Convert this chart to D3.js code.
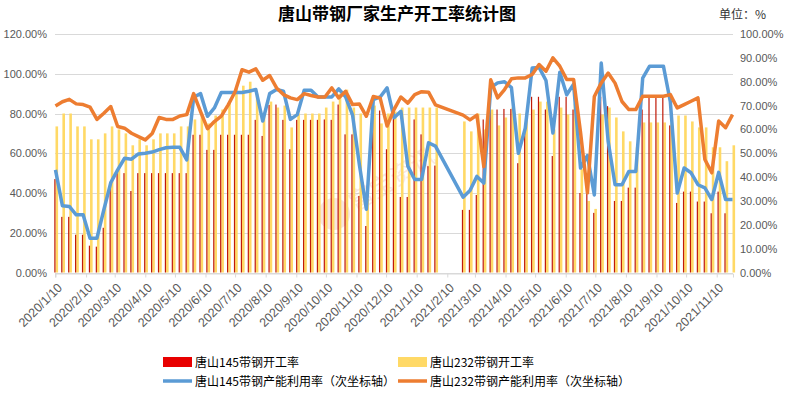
<!DOCTYPE html>
<html>
<head>
<meta charset="utf-8">
<script src="https://cdn.jsdelivr.net/npm/d3@7"></script>
<style>
  body { margin: 0; background: #fff; }
  svg { display: block; font-family: "Liberation Sans", "Noto Sans CJK SC", sans-serif; }
</style>
</head>
<body>
<svg id="chart" width="789" height="394"></svg>
<script>
// weekly dates (Fridays)
const weeks = [
  "2020-01-10","2020-01-17","2020-01-24","2020-01-31","2020-02-07","2020-02-14","2020-02-21","2020-02-28",
  "2020-03-06","2020-03-13","2020-03-20","2020-03-27","2020-04-03","2020-04-10","2020-04-17","2020-04-24",
  "2020-05-01","2020-05-08","2020-05-15","2020-05-22","2020-05-29","2020-06-05","2020-06-12","2020-06-19",
  "2020-06-26","2020-07-03","2020-07-10","2020-07-17","2020-07-24","2020-07-31","2020-08-07","2020-08-14",
  "2020-08-21","2020-08-28","2020-09-04","2020-09-11","2020-09-18","2020-09-25","2020-10-02","2020-10-09",
  "2020-10-16","2020-10-23","2020-10-30","2020-11-06","2020-11-13","2020-11-20","2020-11-27","2020-12-04",
  "2020-12-11","2020-12-18","2020-12-25","2021-01-01","2021-01-08","2021-01-15","2021-01-22","2021-01-29",
  "2021-02-05","2021-02-12","2021-02-19","2021-02-26","2021-03-05","2021-03-12","2021-03-19","2021-03-26",
  "2021-04-02","2021-04-09","2021-04-16","2021-04-23","2021-04-30","2021-05-07","2021-05-14","2021-05-21",
  "2021-05-28","2021-06-04","2021-06-11","2021-06-18","2021-06-25","2021-07-02","2021-07-09","2021-07-16",
  "2021-07-23","2021-07-30","2021-08-06","2021-08-13","2021-08-20","2021-08-27","2021-09-03","2021-09-10",
  "2021-09-17","2021-09-24","2021-10-01","2021-10-08","2021-10-15","2021-10-22","2021-10-29","2021-11-05",
  "2021-11-12","2021-11-19","2021-11-26"
];

// 唐山145带钢开工率 (%)
const rate145 = [
  47,28,28,19,19,13.5,13,22.5,42,50,50,41,50,50,
  50,50,50,50,50,50,69.3,69.3,61.7,61.7,69.3,69.3,69.3,69.3,
  69.3,76.8,68.7,84.3,84.5,76.8,62,76.8,76.8,76.8,76.8,77,76.8,84.5,
  69.5,69.5,38.5,23.4,86,81.5,62,77.5,38,38,77,69.5,53.5,53.8,
  null,null,null,31.5,31.5,39,77,82,82,82.3,82.3,55,71,88.4,88.4,82,
  58.6,88.4,88.4,82,40,40,30,88.4,83.7,36,36,42.7,42.7,82,
  88.4,88.4,88.4,74,35,40.7,40.7,35.7,35.7,29.8,40.7,29.8,null
];

// 唐山232带钢开工率 (%)
const rate232 = [
  73.5,80,80,73.5,73.5,67,67,70,73.5,72,70,64,67,64,
  67,70,70,70,73.5,73.5,77,80,75,79,82,86,93,94,
  96,90,80,86,83,84,73,80,80,80,80,83,86,90,
  92,83,80,37,84,75,80,81,83,83,83,83,83,83,
  null,null,null,76,71,80,72,82,74,78,83,80,80,82,86,86,
  72,83,79.5,85,52,36,32,79.5,83,78,71,66,63,75.5,
  75.5,75.5,75.5,75,79,79,76,73,73,63,63,56,64
];

// 唐山145带钢产能利用率 (次坐标轴, %)
const util145 = [
  43,28,27.7,24.2,24.2,14.4,14.4,26.3,37.7,43,47.9,47.5,49.7,50,
  50.5,51.5,52.3,52.5,52.5,47.2,73.5,75,65.5,69,75.5,75.5,75.5,75.5,
  76,76.7,63.5,75,76.7,76,64.2,66.2,76.4,76.4,73.6,73.6,73.6,77,
  73.6,66,45,26.5,72.5,73.6,77.4,64.9,67.6,44.6,39,39,54.4,53,
  null,null,null,31.6,34.4,40.3,37.5,77.5,79.5,80,77.5,50,60.5,85.7,86,80.5,
  58.5,84,74.5,79,43.8,49,32.5,87.8,55,36.8,36.8,42.4,42.4,81.5,
  86.5,86.5,86.5,71.6,33.3,43.8,41.8,36.8,35.5,30.6,42,30.6,30.6
];

// 唐山232带钢产能利用率 (次坐标轴, %)
const util232 = [
  69.8,71.6,72.6,70.7,70.4,69.3,64.2,66.8,69.6,61.2,60.5,58.4,57,55.6,
  58.3,65,64.2,64.2,65.6,66.2,75,67.5,60.3,63.3,65.6,70.3,75.8,85,
  84,85.4,80.6,82.6,77.4,74.6,73.2,72.5,75,74.2,73.6,73.6,77.4,73.2,
  76,70.4,70.6,65.5,73.8,73.1,61.4,68.3,73.6,71,74.6,75.8,75.6,70.3,
  null,null,null,66,64,66,44.4,80.8,73.2,76.7,81.2,81.6,81.6,83,87.2,84.4,
  90,86.5,80.9,80.9,58.8,33.4,73.8,79.5,83.6,79.4,71.7,68.3,68.3,73.9,
  73.9,73.9,73.9,74.6,69,70.4,71.8,73.2,47.4,41.8,63.5,60.7,66.2
];

const monthLabels = [
  "2020/1/10","2020/2/10","2020/3/10","2020/4/10","2020/5/10","2020/6/10","2020/7/10","2020/8/10",
  "2020/9/10","2020/10/10","2020/11/10","2020/12/10","2021/1/10","2021/2/10","2021/3/10","2021/4/10",
  "2021/5/10","2021/6/10","2021/7/10","2021/8/10","2021/9/10","2021/10/10","2021/11/10"
];
const leftTicks = [0,20,40,60,80,100,120];
const rightTicks = [0,10,20,30,40,50,60,70,80,90,100];

const seriesNames = ["唐山145带钢开工率","唐山232带钢开工率","唐山145带钢产能利用率（次坐标轴）","唐山232带钢产能利用率（次坐标轴）"];

const parse = d3.timeParse("%Y-%m-%d");
const parseLabel = d3.timeParse("%Y/%m/%d");
const rows = weeks.map(function(w, i){
  return {date: parse(w), r145: rate145[i], r232: rate232[i], u145: util145[i], u232: util232[i]};
});

const svg = d3.select('#chart');
const plotL = 55, plotR = 733, plotT = 34, plotB = 272.5;

const x = d3.scaleTime()
  .domain([d3.timeHour.offset(rows[0].date, -12), d3.timeHour.offset(rows[rows.length-1].date, 12)])
  .range([plotL, plotR]);
const yL = d3.scaleLinear().domain([0,120]).range([plotB, plotT]);
const yR = d3.scaleLinear().domain([0,100]).range([plotB, plotT]);

// title
svg.append('text')
  .attr('x', 397).attr('y', 20)
  .attr('text-anchor', 'middle')
  .attr('font-size', 17).attr('font-weight', 'bold')
  .attr('fill', '#000')
  .attr('font-family', '"Noto Sans CJK SC", sans-serif')
  .text('唐山带钢厂家生产开工率统计图');

svg.append('text')
  .attr('x', 719).attr('y', 19)
  .attr('font-size', 12).attr('fill', '#333')
  .attr('font-family', '"Noto Sans CJK SC", sans-serif')
  .text('单位：%');

// gridlines
svg.append('g')
  .selectAll('line')
  .data(leftTicks)
  .join('line')
  .attr('x1', plotL).attr('x2', plotR)
  .attr('y1', function(d){ return Math.round(yL(d)) + 0.5; })
  .attr('y2', function(d){ return Math.round(yL(d)) + 0.5; })
  .attr('stroke', '#d9d9d9');

// axes
const fmt = function(d){ return d.toFixed(2) + '%'; };
const gL = svg.append('g')
  .attr('transform', 'translate(' + plotL + ',0)')
  .call(d3.axisLeft(yL).tickValues(leftTicks).tickFormat(fmt).tickSize(0).tickPadding(8));
const gR = svg.append('g')
  .attr('transform', 'translate(' + plotR + ',0)')
  .call(d3.axisRight(yR).tickValues(rightTicks).tickFormat(fmt).tickSize(0).tickPadding(7));
[gL, gR].forEach(function(g){
  g.select('.domain').remove();
  g.selectAll('text').attr('font-size', 11).attr('fill', '#595959')
    .attr('font-family', '"Liberation Sans", sans-serif');
});

const gX = svg.append('g')
  .attr('transform', 'translate(0,' + (Math.round(plotB) + 0.5) + ')')
  .call(d3.axisBottom(x)
    .tickValues(monthLabels.map(function(s){ return parseLabel(s); }))
    .tickFormat(function(d, i){ return monthLabels[i]; })
    .tickSizeOuter(0).tickSize(4));
gX.select('.domain').attr('stroke', '#d9d9d9');
gX.selectAll('line').attr('stroke', '#d9d9d9');
gX.selectAll('text')
  .attr('font-size', 12.5).attr('fill', '#595959')
  .attr('font-family', '"Liberation Sans", sans-serif')
  .attr('text-anchor', 'end')
  .attr('dy', null).attr('y', 0)
  .attr('transform', 'translate(7,15) rotate(-45)');

// watermark
const wm = svg.append('g').attr('opacity', 0.2);
wm.append('circle').attr('cx', 334).attr('cy', 214).attr('r', 16).attr('fill', '#e0826a');
wm.append('text')
  .attr('transform', 'translate(356,212) rotate(-32)')
  .attr('font-size', 24).attr('fill', '#d98a78')
  .attr('font-family', '"Noto Sans CJK SC", sans-serif')
  .text('富宝资讯');

// bars
const redW = 1.2, yelW = 2.6;
svg.append('g')
  .selectAll('rect')
  .data(rows.filter(function(d){ return d.r232 != null; }))
  .join('rect')
  .attr('x', function(d){ return x(d.date); })
  .attr('width', yelW)
  .attr('y', function(d){ return yL(d.r232); })
  .attr('height', function(d){ return yL(0) - yL(d.r232); })
  .attr('fill', '#ffd966');

svg.append('g')
  .selectAll('rect')
  .data(rows.filter(function(d){ return d.r145 != null; }))
  .join('rect')
  .attr('x', function(d){ return x(d.date) - redW; })
  .attr('width', redW)
  .attr('y', function(d){ return yL(d.r145); })
  .attr('height', function(d){ return yL(0) - yL(d.r145); })
  .attr('fill', '#c01a08');

// lines
const lineOf = function(key){
  return d3.line()
    .x(function(d){ return x(d.date); })
    .y(function(d){ return yR(d[key]); })(rows.filter(function(d){ return d[key] != null; }));
};
svg.append('path').attr('d', lineOf('u145'))
  .attr('fill', 'none').attr('stroke', '#5b9bd5').attr('stroke-width', 3.5).attr('stroke-linejoin', 'round');
svg.append('path').attr('d', lineOf('u232'))
  .attr('fill', 'none').attr('stroke', '#ed7d31').attr('stroke-width', 3.5).attr('stroke-linejoin', 'round');

// legend
const legend = svg.append('g')
  .attr('font-family', '"Noto Sans CJK SC", sans-serif')
  .attr('font-size', 12).attr('fill', '#000');
const legendItems = [
  {name: seriesNames[0], kind: 'rect', color: '#e80000', x: 163, y: 362},
  {name: seriesNames[1], kind: 'rect', color: '#ffd966', x: 398, y: 362},
  {name: seriesNames[2], kind: 'line', color: '#5b9bd5', x: 163, y: 381},
  {name: seriesNames[3], kind: 'line', color: '#ed7d31', x: 398, y: 381}
];
legendItems.forEach(function(it){
  if (it.kind === 'rect') {
    legend.append('rect').attr('x', it.x).attr('y', it.y - 5).attr('width', 29).attr('height', 10).attr('fill', it.color);
  } else {
    legend.append('line').attr('x1', it.x).attr('x2', it.x + 29).attr('y1', it.y).attr('y2', it.y)
      .attr('stroke', it.color).attr('stroke-width', 3.5);
  }
  legend.append('text').attr('x', it.x + 32).attr('y', it.y + 4.5).text(it.name);
});
</script>
</body>
</html>
